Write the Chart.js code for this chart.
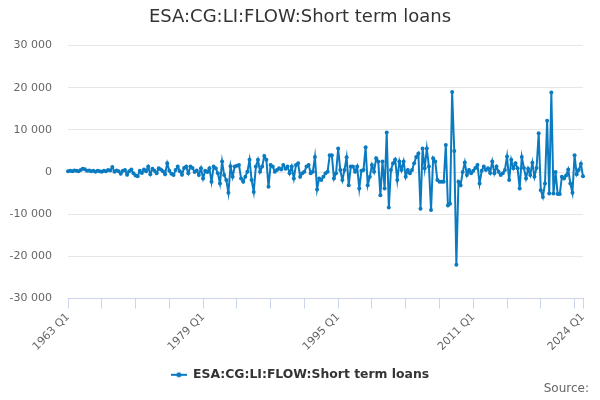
<!DOCTYPE html>
<html>
<head>
<meta charset="utf-8">
<script src="https://cdn.jsdelivr.net/npm/chart.js@4.4.1/dist/chart.umd.min.js"></script>
<style>
  html, body { margin: 0; padding: 0; background: #fff; }
  #wrap { width: 600px; height: 400px; }
</style>
</head>
<body>
<div id="wrap"><canvas id="chart" width="600" height="400"></canvas></div>
<script>
// Series: ESA:CG:LI:FLOW:Short term loans, quarterly 1963 Q1 .. 2024 Q1
const firstYear = 1963;
const lastYear = 2024;
const shownLabels = ['1963 Q1', '1979 Q1', '1995 Q1', '2011 Q1', '2024 Q1'];
const yTicks = [-30000, -20000, -10000, 0, 10000, 20000, 30000];
const shortTermLoans = [
    200, 300, 200, 400, 300, 200, 500, 800, 700, 300, 400, 200, 300, 100, 300, 200,
    100, 300, 200, 500, 400, 1200, 100, 400, 200, -400, 300, 500, -600, 200, 600, -300,
    -800, -1000, 300, -200, 600, 200, 1300, -500, 800, 300, -300, 900, 600, 200, -500, 2100,
    300, -400, -700, 500, 1300, 200, -600, 1000, 1300, -300, 1300, 1000, 0, 400, -700, 900,
    -1500, 300, 0, 900, -2300, 1300, 900, -300, -2700, 2500, -700, -1900, -4900, 1400, -1100, 1300,
    1500, 1700, -1500, -2300, -1100, 100, 2900, -1900, -4700, 1300, 2900, 100, 1300, 3800, 2900, -3500,
    1700, 1300, 100, 500, 900, 600, 1700, 800, 1300, -300, 1300, -1500, 1700, 2100, -1100, -300,
    100, 1300, 1700, -300, 100, 3600, -4100, -1500, -1900, -1100, -300, 100, 4000, 4000, -1500, -300,
    5600, 500, -1900, 500, 3500, -3100, 1300, 1300, 100, 1300, -3900, 300, 500, 5900, -3100, -1100,
    1700, 100, 3300, 2500, -5500, 2500, -3900, 9400, -8400, 500, 2100, 3000, -1900, 2500, 500, 2500,
    -1100, 500, -300, 500, 2100, 3600, 4400, -8700, 5600, 900, 5600, 1300, -9000, 3300, 2500, -1900,
    -2300, -2300, -2300, 6400, -7900, -7500, 19000, 5000, -22000, -2300, -3100, 0, 2300, -700, 500, -300,
    300, 1000, 1700, -2700, 300, 1300, 500, 900, -200, 2500, -300, 1300, 100, -700, -300, 500,
    3700, -1900, 2900, 900, 2100, 900, -3900, 3600, 1000, -1500, 800, -700, 2200, -1100, 1000, 9200,
    -4300, -5900, -2700, 12200, -5100, 18900, -5100, 0, -5200, -5200, -1100, -1500, -800, 600, -2700, -4900,
    4000, -500, 500, 2000, -1000
];

const lineColor = '#0b7bc1';

// quarter labels
const quarters = [];
for (let y = firstYear; y <= lastYear; y++) {
    for (let q = 1; q <= 4; q++) {
        if (y === lastYear && q > 1) break;
        quarters.push(y + ' Q' + q);
    }
}

function fmt(v) {
    const s = String(Math.abs(v)).replace(/\B(?=(\d{3})+(?!\d))/g, ' ');
    return (v < 0 ? '-' : '') + s;
}

// legend symbol: short line with a dot
const legendIcon = document.createElement('canvas');
legendIcon.width = 16;
legendIcon.height = 8;
const g = legendIcon.getContext('2d');
g.strokeStyle = lineColor;
g.lineWidth = 2;
g.beginPath();
g.moveTo(0, 4);
g.lineTo(16, 4);
g.stroke();
g.fillStyle = lineColor;
g.beginPath();
g.arc(8, 4, 2.5, 0, Math.PI * 2);
g.fill();

const sourceText = {
    id: 'sourceText',
    afterDraw(chart) {
        const c = chart.ctx;
        c.save();
        c.font = '12px "DejaVu Sans"';
        c.fillStyle = '#666666';
        c.textAlign = 'right';
        c.textBaseline = 'middle';
        c.fillText('Source:', 589, 389);
        c.restore();
    }
};

Chart.defaults.font.family = '"DejaVu Sans", sans-serif';

new Chart(document.getElementById('chart').getContext('2d'), {
    type: 'line',
    data: {
        labels: quarters,
        datasets: [{
            label: 'ESA:CG:LI:FLOW:Short term loans',
            data: shortTermLoans,
            borderColor: lineColor,
            backgroundColor: lineColor,
            borderWidth: 2,
            pointRadius: 2,
            pointBorderWidth: 0,
            pointBackgroundColor: lineColor,
            tension: 0
        }]
    },
    options: {
        responsive: false,
        animation: false,
        layout: { padding: { left: 0, right: 0, top: 0, bottom: 9 } },
        plugins: {
            title: {
                display: true,
                text: 'ESA:CG:LI:FLOW:Short term loans',
                color: '#333333',
                font: { size: 18, weight: 'normal' },
                padding: { top: 7, bottom: 17 }
            },
            legend: {
                position: 'bottom',
                labels: {
                    usePointStyle: true,
                    pointStyle: legendIcon,
                    pointStyleWidth: 16,
                    color: '#333333',
                    font: { size: 12.4, weight: 'bold' },
                    padding: 8
                }
            },
            tooltip: { enabled: false }
        },
        scales: {
            x: {
                grid: {
                    drawOnChartArea: false,
                    drawTicks: true,
                    tickLength: 10,
                    color: ctx => (ctx.index % 16 === 0 || ctx.index === quarters.length - 1) ? '#ccd6eb' : 'rgba(0,0,0,0)'
                },
                border: { color: '#ccd6eb' },
                ticks: {
                    autoSkip: false,
                    maxRotation: 45,
                    minRotation: 45,
                    color: '#666666',
                    font: { size: 11 },
                    padding: 2,
                    callback: (v, i) => shownLabels.includes(quarters[i]) ? quarters[i] : ''
                },
                afterFit: s => { s.height = 62; }
            },
            y: {
                min: -30000,
                max: 30000,
                afterBuildTicks: s => { s.ticks = yTicks.map(v => ({ value: v })); },
                grid: { color: '#e6e6e6', drawTicks: false },
                border: { display: false },
                ticks: { color: '#666666', font: { size: 11 }, padding: 16, callback: v => fmt(v) },
                afterFit: s => { s.width = 68; }
            },
            // empty right-hand gutter so the plot ends at x ~583 while title/legend stay centred
            gutter: {
                position: 'right',
                display: true,
                grid: { display: false },
                border: { display: false },
                ticks: { display: false },
                afterFit: s => { s.width = 17; }
            }
        }
    },
    plugins: [sourceText]
});
</script>
</body>
</html>
